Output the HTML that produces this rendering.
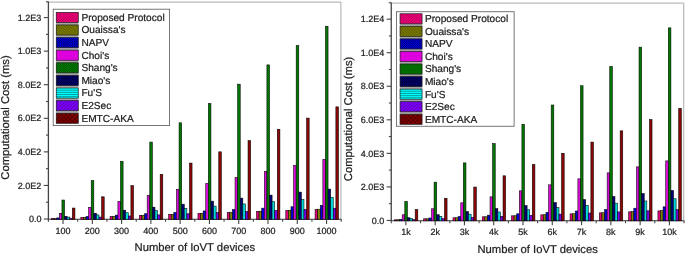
<!DOCTYPE html>
<html><head><meta charset="utf-8"><style>
html,body{margin:0;padding:0;background:#fff;}
text{stroke:#222;stroke-width:0.22px;}
svg{display:block;filter:blur(0.3px);text-rendering:geometricPrecision;font-family:"Liberation Sans",sans-serif;}
</style></head><body>
<svg width="685" height="254" viewBox="0 0 685 254">
<defs>
<pattern id="p0" width="2.0" height="2.0" patternUnits="userSpaceOnUse"><path d="M-0.5 0.5 L0.5 -0.5 M0 2.0 L2.0 0 M1.5 2.5 L2.5 1.5" stroke="#000" stroke-width="0.45" stroke-opacity="0.5" fill="none"/></pattern>
<pattern id="L0" width="2.6" height="2.6" patternUnits="userSpaceOnUse"><path d="M-0.65 0.65 L0.65 -0.65 M0 2.6 L2.6 0 M1.9500000000000002 3.25 L3.25 1.9500000000000002" stroke="#000" stroke-width="0.7" stroke-opacity="0.55" fill="none"/></pattern>
<pattern id="p1" width="2.0" height="2.0" patternUnits="userSpaceOnUse"><path d="M-0.5 1.5 L0.5 2.5 M0 0 L2.0 2.0 M1.5 -0.5 L2.5 0.5" stroke="#000" stroke-width="0.45" stroke-opacity="0.5" fill="none"/></pattern>
<pattern id="L1" width="2.7" height="2.7" patternUnits="userSpaceOnUse"><path d="M-0.675 2.0250000000000004 L0.675 3.375 M0 0 L2.7 2.7 M2.0250000000000004 -0.675 L3.375 0.675" stroke="#000" stroke-width="0.7" stroke-opacity="0.55" fill="none"/></pattern>
<pattern id="p2" width="1.6" height="1.6" patternUnits="userSpaceOnUse"><path d="M0 1.6 L1.6 0 M0 0 L1.6 1.6" stroke="#000" stroke-width="0.45" stroke-opacity="0.3" fill="none"/></pattern>
<pattern id="L2" width="2.2" height="2.2" patternUnits="userSpaceOnUse"><path d="M0 2.2 L2.2 0 M0 0 L2.2 2.2" stroke="#000" stroke-width="0.7" stroke-opacity="0.55" fill="none"/></pattern>
<pattern id="p3" width="1.4" height="1.4" patternUnits="userSpaceOnUse"><path d="M0 0.7 H1.4" stroke="#000" stroke-width="0.7" stroke-opacity="0.3" fill="none"/></pattern>
<pattern id="L3" width="1.45" height="1.45" patternUnits="userSpaceOnUse"><path d="M0 0.725 H1.45" stroke="#000" stroke-width="0.35" stroke-opacity="0.55" fill="none"/></pattern>
<pattern id="p4" width="2.0" height="2.0" patternUnits="userSpaceOnUse"><path d="M-0.5 1.5 L0.5 2.5 M0 0 L2.0 2.0 M1.5 -0.5 L2.5 0.5" stroke="#000" stroke-width="0.45" stroke-opacity="0.6" fill="none"/></pattern>
<pattern id="L4" width="2.0" height="2.0" patternUnits="userSpaceOnUse"><path d="M-0.5 1.5 L0.5 2.5 M0 0 L2.0 2.0 M1.5 -0.5 L2.5 0.5" stroke="#000" stroke-width="0.6" stroke-opacity="0.55" fill="none"/></pattern>
<pattern id="p5" width="1.6" height="1.6" patternUnits="userSpaceOnUse"><path d="M0 1.6 L1.6 0 M0 0 L1.6 1.6" stroke="#000" stroke-width="0.45" stroke-opacity="0.3" fill="none"/></pattern>
<pattern id="L5" width="2.2" height="2.2" patternUnits="userSpaceOnUse"><path d="M0 2.2 L2.2 0 M0 0 L2.2 2.2" stroke="#000" stroke-width="0.7" stroke-opacity="0.55" fill="none"/></pattern>
<pattern id="p6" width="1.4" height="1.4" patternUnits="userSpaceOnUse"><path d="M0 0.7 H1.4" stroke="#000" stroke-width="0.7" stroke-opacity="0.3" fill="none"/></pattern>
<pattern id="L6" width="2.4" height="2.4" patternUnits="userSpaceOnUse"><path d="M0 1.2 H2.4" stroke="#000" stroke-width="0.0" stroke-opacity="0.55" fill="none"/></pattern>
<pattern id="p7" width="2.0" height="2.0" patternUnits="userSpaceOnUse"><path d="M-0.5 0.5 L0.5 -0.5 M0 2.0 L2.0 0 M1.5 2.5 L2.5 1.5" stroke="#000" stroke-width="0.45" stroke-opacity="0.4" fill="none"/></pattern>
<pattern id="L7" width="3.4" height="3.4" patternUnits="userSpaceOnUse"><path d="M-0.85 0.85 L0.85 -0.85 M0 3.4 L3.4 0 M2.55 4.25 L4.25 2.55" stroke="#000" stroke-width="0.7" stroke-opacity="0.55" fill="none"/></pattern>
<pattern id="p8" width="1.8" height="1.8" patternUnits="userSpaceOnUse"><path d="M0 1.8 L1.8 0 M0 0 L1.8 1.8" stroke="#000" stroke-width="0.45" stroke-opacity="0.35" fill="none"/></pattern>
<pattern id="L8" width="4.4" height="4.4" patternUnits="userSpaceOnUse"><path d="M0 4.4 L4.4 0 M0 0 L4.4 4.4" stroke="#000" stroke-width="0.7" stroke-opacity="0.55" fill="none"/></pattern>
</defs>
<rect width="685" height="254" fill="#fff"/>
<g transform="translate(0,0)">
<path d="M48.4 2.1 H340.9 V219.0" fill="none" stroke="#a0a0a0" stroke-width="0.9"/>
<path d="M47.8 219.3 H341.2" fill="none" stroke="#333" stroke-width="1.1"/>
<rect x="51.54" y="218.31" width="2.60" height="1.04" fill="#ff0088"/>
<rect x="51.54" y="218.31" width="2.60" height="1.04" fill="url(#p0)" stroke="#000" stroke-width="0.6" stroke-opacity="0.9"/>
<rect x="54.14" y="218.29" width="2.60" height="1.06" fill="#909000"/>
<rect x="54.14" y="218.29" width="2.60" height="1.06" fill="url(#p1)" stroke="#000" stroke-width="0.6" stroke-opacity="0.9"/>
<rect x="56.74" y="217.91" width="2.60" height="1.44" fill="#0000ff"/>
<rect x="56.74" y="217.91" width="2.60" height="1.44" fill="url(#p2)" stroke="#000" stroke-width="0.6" stroke-opacity="0.9"/>
<rect x="59.34" y="213.31" width="2.60" height="6.04" fill="#ff10ff"/>
<rect x="59.34" y="213.31" width="2.60" height="6.04" fill="url(#p3)" stroke="#000" stroke-width="0.6" stroke-opacity="0.9"/>
<rect x="61.94" y="200.00" width="2.60" height="19.35" fill="#008800"/>
<rect x="61.94" y="200.00" width="2.60" height="19.35" fill="url(#p4)" stroke="#000" stroke-width="0.6" stroke-opacity="0.9"/>
<rect x="64.54" y="216.28" width="2.60" height="3.07" fill="#000090"/>
<rect x="64.54" y="216.28" width="2.60" height="3.07" fill="url(#p5)" stroke="#000" stroke-width="0.6" stroke-opacity="0.9"/>
<rect x="67.14" y="217.10" width="2.60" height="2.25" fill="#00ffff"/>
<rect x="67.14" y="217.10" width="2.60" height="2.25" fill="url(#p6)" stroke="#000" stroke-width="0.6" stroke-opacity="0.9"/>
<rect x="69.74" y="218.19" width="2.60" height="1.16" fill="#8800ff"/>
<rect x="69.74" y="218.19" width="2.60" height="1.16" fill="url(#p7)" stroke="#000" stroke-width="0.6" stroke-opacity="0.9"/>
<rect x="72.34" y="208.05" width="2.60" height="11.30" fill="#a80808"/>
<rect x="72.34" y="208.05" width="2.60" height="11.30" fill="url(#p8)" stroke="#000" stroke-width="0.6" stroke-opacity="0.9"/>
<rect x="80.82" y="217.32" width="2.60" height="2.03" fill="#ff0088"/>
<rect x="80.82" y="217.32" width="2.60" height="2.03" fill="url(#p0)" stroke="#000" stroke-width="0.6" stroke-opacity="0.9"/>
<rect x="83.42" y="217.29" width="2.60" height="2.06" fill="#909000"/>
<rect x="83.42" y="217.29" width="2.60" height="2.06" fill="url(#p1)" stroke="#000" stroke-width="0.6" stroke-opacity="0.9"/>
<rect x="86.02" y="216.51" width="2.60" height="2.84" fill="#0000ff"/>
<rect x="86.02" y="216.51" width="2.60" height="2.84" fill="url(#p2)" stroke="#000" stroke-width="0.6" stroke-opacity="0.9"/>
<rect x="88.62" y="207.32" width="2.60" height="12.03" fill="#ff10ff"/>
<rect x="88.62" y="207.32" width="2.60" height="12.03" fill="url(#p3)" stroke="#000" stroke-width="0.6" stroke-opacity="0.9"/>
<rect x="91.22" y="180.69" width="2.60" height="38.66" fill="#008800"/>
<rect x="91.22" y="180.69" width="2.60" height="38.66" fill="url(#p4)" stroke="#000" stroke-width="0.6" stroke-opacity="0.9"/>
<rect x="93.82" y="213.26" width="2.60" height="6.09" fill="#000090"/>
<rect x="93.82" y="213.26" width="2.60" height="6.09" fill="url(#p5)" stroke="#000" stroke-width="0.6" stroke-opacity="0.9"/>
<rect x="96.42" y="214.90" width="2.60" height="4.45" fill="#00ffff"/>
<rect x="96.42" y="214.90" width="2.60" height="4.45" fill="url(#p6)" stroke="#000" stroke-width="0.6" stroke-opacity="0.9"/>
<rect x="99.02" y="217.08" width="2.60" height="2.27" fill="#8800ff"/>
<rect x="99.02" y="217.08" width="2.60" height="2.27" fill="url(#p7)" stroke="#000" stroke-width="0.6" stroke-opacity="0.9"/>
<rect x="101.62" y="196.81" width="2.60" height="22.54" fill="#a80808"/>
<rect x="101.62" y="196.81" width="2.60" height="22.54" fill="url(#p8)" stroke="#000" stroke-width="0.6" stroke-opacity="0.9"/>
<rect x="110.10" y="216.33" width="2.60" height="3.02" fill="#ff0088"/>
<rect x="110.10" y="216.33" width="2.60" height="3.02" fill="url(#p0)" stroke="#000" stroke-width="0.6" stroke-opacity="0.9"/>
<rect x="112.70" y="216.28" width="2.60" height="3.07" fill="#909000"/>
<rect x="112.70" y="216.28" width="2.60" height="3.07" fill="url(#p1)" stroke="#000" stroke-width="0.6" stroke-opacity="0.9"/>
<rect x="115.30" y="215.12" width="2.60" height="4.23" fill="#0000ff"/>
<rect x="115.30" y="215.12" width="2.60" height="4.23" fill="url(#p2)" stroke="#000" stroke-width="0.6" stroke-opacity="0.9"/>
<rect x="117.90" y="201.32" width="2.60" height="18.03" fill="#ff10ff"/>
<rect x="117.90" y="201.32" width="2.60" height="18.03" fill="url(#p3)" stroke="#000" stroke-width="0.6" stroke-opacity="0.9"/>
<rect x="120.50" y="161.39" width="2.60" height="57.96" fill="#008800"/>
<rect x="120.50" y="161.39" width="2.60" height="57.96" fill="url(#p4)" stroke="#000" stroke-width="0.6" stroke-opacity="0.9"/>
<rect x="123.10" y="210.24" width="2.60" height="9.11" fill="#000090"/>
<rect x="123.10" y="210.24" width="2.60" height="9.11" fill="url(#p5)" stroke="#000" stroke-width="0.6" stroke-opacity="0.9"/>
<rect x="125.70" y="212.70" width="2.60" height="6.65" fill="#00ffff"/>
<rect x="125.70" y="212.70" width="2.60" height="6.65" fill="url(#p6)" stroke="#000" stroke-width="0.6" stroke-opacity="0.9"/>
<rect x="128.30" y="215.98" width="2.60" height="3.37" fill="#8800ff"/>
<rect x="128.30" y="215.98" width="2.60" height="3.37" fill="url(#p7)" stroke="#000" stroke-width="0.6" stroke-opacity="0.9"/>
<rect x="130.90" y="185.56" width="2.60" height="33.79" fill="#a80808"/>
<rect x="130.90" y="185.56" width="2.60" height="33.79" fill="url(#p8)" stroke="#000" stroke-width="0.6" stroke-opacity="0.9"/>
<rect x="139.38" y="215.34" width="2.60" height="4.01" fill="#ff0088"/>
<rect x="139.38" y="215.34" width="2.60" height="4.01" fill="url(#p0)" stroke="#000" stroke-width="0.6" stroke-opacity="0.9"/>
<rect x="141.98" y="215.27" width="2.60" height="4.08" fill="#909000"/>
<rect x="141.98" y="215.27" width="2.60" height="4.08" fill="url(#p1)" stroke="#000" stroke-width="0.6" stroke-opacity="0.9"/>
<rect x="144.58" y="213.73" width="2.60" height="5.62" fill="#0000ff"/>
<rect x="144.58" y="213.73" width="2.60" height="5.62" fill="url(#p2)" stroke="#000" stroke-width="0.6" stroke-opacity="0.9"/>
<rect x="147.18" y="195.33" width="2.60" height="24.02" fill="#ff10ff"/>
<rect x="147.18" y="195.33" width="2.60" height="24.02" fill="url(#p3)" stroke="#000" stroke-width="0.6" stroke-opacity="0.9"/>
<rect x="149.78" y="142.09" width="2.60" height="77.26" fill="#008800"/>
<rect x="149.78" y="142.09" width="2.60" height="77.26" fill="url(#p4)" stroke="#000" stroke-width="0.6" stroke-opacity="0.9"/>
<rect x="152.38" y="207.21" width="2.60" height="12.14" fill="#000090"/>
<rect x="152.38" y="207.21" width="2.60" height="12.14" fill="url(#p5)" stroke="#000" stroke-width="0.6" stroke-opacity="0.9"/>
<rect x="154.98" y="210.50" width="2.60" height="8.85" fill="#00ffff"/>
<rect x="154.98" y="210.50" width="2.60" height="8.85" fill="url(#p6)" stroke="#000" stroke-width="0.6" stroke-opacity="0.9"/>
<rect x="157.58" y="214.87" width="2.60" height="4.48" fill="#8800ff"/>
<rect x="157.58" y="214.87" width="2.60" height="4.48" fill="url(#p7)" stroke="#000" stroke-width="0.6" stroke-opacity="0.9"/>
<rect x="160.18" y="174.32" width="2.60" height="45.03" fill="#a80808"/>
<rect x="160.18" y="174.32" width="2.60" height="45.03" fill="url(#p8)" stroke="#000" stroke-width="0.6" stroke-opacity="0.9"/>
<rect x="168.66" y="214.35" width="2.60" height="5.00" fill="#ff0088"/>
<rect x="168.66" y="214.35" width="2.60" height="5.00" fill="url(#p0)" stroke="#000" stroke-width="0.6" stroke-opacity="0.9"/>
<rect x="171.26" y="214.26" width="2.60" height="5.09" fill="#909000"/>
<rect x="171.26" y="214.26" width="2.60" height="5.09" fill="url(#p1)" stroke="#000" stroke-width="0.6" stroke-opacity="0.9"/>
<rect x="173.86" y="212.33" width="2.60" height="7.02" fill="#0000ff"/>
<rect x="173.86" y="212.33" width="2.60" height="7.02" fill="url(#p2)" stroke="#000" stroke-width="0.6" stroke-opacity="0.9"/>
<rect x="176.46" y="189.34" width="2.60" height="30.01" fill="#ff10ff"/>
<rect x="176.46" y="189.34" width="2.60" height="30.01" fill="url(#p3)" stroke="#000" stroke-width="0.6" stroke-opacity="0.9"/>
<rect x="179.06" y="122.79" width="2.60" height="96.56" fill="#008800"/>
<rect x="179.06" y="122.79" width="2.60" height="96.56" fill="url(#p4)" stroke="#000" stroke-width="0.6" stroke-opacity="0.9"/>
<rect x="181.66" y="204.19" width="2.60" height="15.16" fill="#000090"/>
<rect x="181.66" y="204.19" width="2.60" height="15.16" fill="url(#p5)" stroke="#000" stroke-width="0.6" stroke-opacity="0.9"/>
<rect x="184.26" y="208.31" width="2.60" height="11.04" fill="#00ffff"/>
<rect x="184.26" y="208.31" width="2.60" height="11.04" fill="url(#p6)" stroke="#000" stroke-width="0.6" stroke-opacity="0.9"/>
<rect x="186.86" y="213.76" width="2.60" height="5.59" fill="#8800ff"/>
<rect x="186.86" y="213.76" width="2.60" height="5.59" fill="url(#p7)" stroke="#000" stroke-width="0.6" stroke-opacity="0.9"/>
<rect x="189.46" y="163.07" width="2.60" height="56.28" fill="#a80808"/>
<rect x="189.46" y="163.07" width="2.60" height="56.28" fill="url(#p8)" stroke="#000" stroke-width="0.6" stroke-opacity="0.9"/>
<rect x="197.94" y="213.36" width="2.60" height="5.99" fill="#ff0088"/>
<rect x="197.94" y="213.36" width="2.60" height="5.99" fill="url(#p0)" stroke="#000" stroke-width="0.6" stroke-opacity="0.9"/>
<rect x="200.54" y="213.26" width="2.60" height="6.09" fill="#909000"/>
<rect x="200.54" y="213.26" width="2.60" height="6.09" fill="url(#p1)" stroke="#000" stroke-width="0.6" stroke-opacity="0.9"/>
<rect x="203.14" y="210.94" width="2.60" height="8.41" fill="#0000ff"/>
<rect x="203.14" y="210.94" width="2.60" height="8.41" fill="url(#p2)" stroke="#000" stroke-width="0.6" stroke-opacity="0.9"/>
<rect x="205.74" y="183.35" width="2.60" height="36.00" fill="#ff10ff"/>
<rect x="205.74" y="183.35" width="2.60" height="36.00" fill="url(#p3)" stroke="#000" stroke-width="0.6" stroke-opacity="0.9"/>
<rect x="208.34" y="103.48" width="2.60" height="115.87" fill="#008800"/>
<rect x="208.34" y="103.48" width="2.60" height="115.87" fill="url(#p4)" stroke="#000" stroke-width="0.6" stroke-opacity="0.9"/>
<rect x="210.94" y="201.17" width="2.60" height="18.18" fill="#000090"/>
<rect x="210.94" y="201.17" width="2.60" height="18.18" fill="url(#p5)" stroke="#000" stroke-width="0.6" stroke-opacity="0.9"/>
<rect x="213.54" y="206.11" width="2.60" height="13.24" fill="#00ffff"/>
<rect x="213.54" y="206.11" width="2.60" height="13.24" fill="url(#p6)" stroke="#000" stroke-width="0.6" stroke-opacity="0.9"/>
<rect x="216.14" y="212.65" width="2.60" height="6.70" fill="#8800ff"/>
<rect x="216.14" y="212.65" width="2.60" height="6.70" fill="url(#p7)" stroke="#000" stroke-width="0.6" stroke-opacity="0.9"/>
<rect x="218.74" y="151.82" width="2.60" height="67.53" fill="#a80808"/>
<rect x="218.74" y="151.82" width="2.60" height="67.53" fill="url(#p8)" stroke="#000" stroke-width="0.6" stroke-opacity="0.9"/>
<rect x="227.22" y="212.37" width="2.60" height="6.98" fill="#ff0088"/>
<rect x="227.22" y="212.37" width="2.60" height="6.98" fill="url(#p0)" stroke="#000" stroke-width="0.6" stroke-opacity="0.9"/>
<rect x="229.82" y="212.25" width="2.60" height="7.10" fill="#909000"/>
<rect x="229.82" y="212.25" width="2.60" height="7.10" fill="url(#p1)" stroke="#000" stroke-width="0.6" stroke-opacity="0.9"/>
<rect x="232.42" y="209.55" width="2.60" height="9.80" fill="#0000ff"/>
<rect x="232.42" y="209.55" width="2.60" height="9.80" fill="url(#p2)" stroke="#000" stroke-width="0.6" stroke-opacity="0.9"/>
<rect x="235.02" y="177.35" width="2.60" height="42.00" fill="#ff10ff"/>
<rect x="235.02" y="177.35" width="2.60" height="42.00" fill="url(#p3)" stroke="#000" stroke-width="0.6" stroke-opacity="0.9"/>
<rect x="237.62" y="84.18" width="2.60" height="135.17" fill="#008800"/>
<rect x="237.62" y="84.18" width="2.60" height="135.17" fill="url(#p4)" stroke="#000" stroke-width="0.6" stroke-opacity="0.9"/>
<rect x="240.22" y="198.15" width="2.60" height="21.20" fill="#000090"/>
<rect x="240.22" y="198.15" width="2.60" height="21.20" fill="url(#p5)" stroke="#000" stroke-width="0.6" stroke-opacity="0.9"/>
<rect x="242.82" y="203.91" width="2.60" height="15.44" fill="#00ffff"/>
<rect x="242.82" y="203.91" width="2.60" height="15.44" fill="url(#p6)" stroke="#000" stroke-width="0.6" stroke-opacity="0.9"/>
<rect x="245.42" y="211.55" width="2.60" height="7.80" fill="#8800ff"/>
<rect x="245.42" y="211.55" width="2.60" height="7.80" fill="url(#p7)" stroke="#000" stroke-width="0.6" stroke-opacity="0.9"/>
<rect x="248.02" y="140.58" width="2.60" height="78.77" fill="#a80808"/>
<rect x="248.02" y="140.58" width="2.60" height="78.77" fill="url(#p8)" stroke="#000" stroke-width="0.6" stroke-opacity="0.9"/>
<rect x="256.50" y="211.38" width="2.60" height="7.97" fill="#ff0088"/>
<rect x="256.50" y="211.38" width="2.60" height="7.97" fill="url(#p0)" stroke="#000" stroke-width="0.6" stroke-opacity="0.9"/>
<rect x="259.10" y="211.24" width="2.60" height="8.11" fill="#909000"/>
<rect x="259.10" y="211.24" width="2.60" height="8.11" fill="url(#p1)" stroke="#000" stroke-width="0.6" stroke-opacity="0.9"/>
<rect x="261.70" y="208.15" width="2.60" height="11.20" fill="#0000ff"/>
<rect x="261.70" y="208.15" width="2.60" height="11.20" fill="url(#p2)" stroke="#000" stroke-width="0.6" stroke-opacity="0.9"/>
<rect x="264.30" y="171.36" width="2.60" height="47.99" fill="#ff10ff"/>
<rect x="264.30" y="171.36" width="2.60" height="47.99" fill="url(#p3)" stroke="#000" stroke-width="0.6" stroke-opacity="0.9"/>
<rect x="266.90" y="64.88" width="2.60" height="154.47" fill="#008800"/>
<rect x="266.90" y="64.88" width="2.60" height="154.47" fill="url(#p4)" stroke="#000" stroke-width="0.6" stroke-opacity="0.9"/>
<rect x="269.50" y="195.13" width="2.60" height="24.22" fill="#000090"/>
<rect x="269.50" y="195.13" width="2.60" height="24.22" fill="url(#p5)" stroke="#000" stroke-width="0.6" stroke-opacity="0.9"/>
<rect x="272.10" y="201.71" width="2.60" height="17.64" fill="#00ffff"/>
<rect x="272.10" y="201.71" width="2.60" height="17.64" fill="url(#p6)" stroke="#000" stroke-width="0.6" stroke-opacity="0.9"/>
<rect x="274.70" y="210.44" width="2.60" height="8.91" fill="#8800ff"/>
<rect x="274.70" y="210.44" width="2.60" height="8.91" fill="url(#p7)" stroke="#000" stroke-width="0.6" stroke-opacity="0.9"/>
<rect x="277.30" y="129.33" width="2.60" height="90.02" fill="#a80808"/>
<rect x="277.30" y="129.33" width="2.60" height="90.02" fill="url(#p8)" stroke="#000" stroke-width="0.6" stroke-opacity="0.9"/>
<rect x="285.78" y="210.39" width="2.60" height="8.96" fill="#ff0088"/>
<rect x="285.78" y="210.39" width="2.60" height="8.96" fill="url(#p0)" stroke="#000" stroke-width="0.6" stroke-opacity="0.9"/>
<rect x="288.38" y="210.24" width="2.60" height="9.11" fill="#909000"/>
<rect x="288.38" y="210.24" width="2.60" height="9.11" fill="url(#p1)" stroke="#000" stroke-width="0.6" stroke-opacity="0.9"/>
<rect x="290.98" y="206.76" width="2.60" height="12.59" fill="#0000ff"/>
<rect x="290.98" y="206.76" width="2.60" height="12.59" fill="url(#p2)" stroke="#000" stroke-width="0.6" stroke-opacity="0.9"/>
<rect x="293.58" y="165.37" width="2.60" height="53.98" fill="#ff10ff"/>
<rect x="293.58" y="165.37" width="2.60" height="53.98" fill="url(#p3)" stroke="#000" stroke-width="0.6" stroke-opacity="0.9"/>
<rect x="296.18" y="45.58" width="2.60" height="173.77" fill="#008800"/>
<rect x="296.18" y="45.58" width="2.60" height="173.77" fill="url(#p4)" stroke="#000" stroke-width="0.6" stroke-opacity="0.9"/>
<rect x="298.78" y="192.11" width="2.60" height="27.24" fill="#000090"/>
<rect x="298.78" y="192.11" width="2.60" height="27.24" fill="url(#p5)" stroke="#000" stroke-width="0.6" stroke-opacity="0.9"/>
<rect x="301.38" y="199.51" width="2.60" height="19.84" fill="#00ffff"/>
<rect x="301.38" y="199.51" width="2.60" height="19.84" fill="url(#p6)" stroke="#000" stroke-width="0.6" stroke-opacity="0.9"/>
<rect x="303.98" y="209.33" width="2.60" height="10.02" fill="#8800ff"/>
<rect x="303.98" y="209.33" width="2.60" height="10.02" fill="url(#p7)" stroke="#000" stroke-width="0.6" stroke-opacity="0.9"/>
<rect x="306.58" y="118.09" width="2.60" height="101.26" fill="#a80808"/>
<rect x="306.58" y="118.09" width="2.60" height="101.26" fill="url(#p8)" stroke="#000" stroke-width="0.6" stroke-opacity="0.9"/>
<rect x="315.06" y="209.40" width="2.60" height="9.95" fill="#ff0088"/>
<rect x="315.06" y="209.40" width="2.60" height="9.95" fill="url(#p0)" stroke="#000" stroke-width="0.6" stroke-opacity="0.9"/>
<rect x="317.66" y="209.23" width="2.60" height="10.12" fill="#909000"/>
<rect x="317.66" y="209.23" width="2.60" height="10.12" fill="url(#p1)" stroke="#000" stroke-width="0.6" stroke-opacity="0.9"/>
<rect x="320.26" y="205.37" width="2.60" height="13.98" fill="#0000ff"/>
<rect x="320.26" y="205.37" width="2.60" height="13.98" fill="url(#p2)" stroke="#000" stroke-width="0.6" stroke-opacity="0.9"/>
<rect x="322.86" y="159.38" width="2.60" height="59.97" fill="#ff10ff"/>
<rect x="322.86" y="159.38" width="2.60" height="59.97" fill="url(#p3)" stroke="#000" stroke-width="0.6" stroke-opacity="0.9"/>
<rect x="325.46" y="26.27" width="2.60" height="193.08" fill="#008800"/>
<rect x="325.46" y="26.27" width="2.60" height="193.08" fill="url(#p4)" stroke="#000" stroke-width="0.6" stroke-opacity="0.9"/>
<rect x="328.06" y="189.09" width="2.60" height="30.26" fill="#000090"/>
<rect x="328.06" y="189.09" width="2.60" height="30.26" fill="url(#p5)" stroke="#000" stroke-width="0.6" stroke-opacity="0.9"/>
<rect x="330.66" y="197.31" width="2.60" height="22.04" fill="#00ffff"/>
<rect x="330.66" y="197.31" width="2.60" height="22.04" fill="url(#p6)" stroke="#000" stroke-width="0.6" stroke-opacity="0.9"/>
<rect x="333.26" y="208.22" width="2.60" height="11.13" fill="#8800ff"/>
<rect x="333.26" y="208.22" width="2.60" height="11.13" fill="url(#p7)" stroke="#000" stroke-width="0.6" stroke-opacity="0.9"/>
<rect x="335.86" y="106.84" width="2.60" height="112.51" fill="#a80808"/>
<rect x="335.86" y="106.84" width="2.60" height="112.51" fill="url(#p8)" stroke="#000" stroke-width="0.6" stroke-opacity="0.9"/>
<path d="M48.4 1.5 V219.5" fill="none" stroke="#444" stroke-width="1.3"/>
<path d="M43.8 219.00 H48.4" stroke="#444" stroke-width="1.1"/>
<text x="41.4" y="222.20" text-anchor="end" font-size="9" fill="#222">0.0</text>
<path d="M46.0 202.22 H48.4" stroke="#444" stroke-width="1.1"/>
<path d="M43.8 185.43 H48.4" stroke="#444" stroke-width="1.1"/>
<text x="41.4" y="188.63" text-anchor="end" font-size="9" fill="#222">2.0E2</text>
<path d="M46.0 168.65 H48.4" stroke="#444" stroke-width="1.1"/>
<path d="M43.8 151.86 H48.4" stroke="#444" stroke-width="1.1"/>
<text x="41.4" y="155.06" text-anchor="end" font-size="9" fill="#222">4.0E2</text>
<path d="M46.0 135.08 H48.4" stroke="#444" stroke-width="1.1"/>
<path d="M43.8 118.29 H48.4" stroke="#444" stroke-width="1.1"/>
<text x="41.4" y="121.49" text-anchor="end" font-size="9" fill="#222">6.0E2</text>
<path d="M46.0 101.50 H48.4" stroke="#444" stroke-width="1.1"/>
<path d="M43.8 84.72 H48.4" stroke="#444" stroke-width="1.1"/>
<text x="41.4" y="87.92" text-anchor="end" font-size="9" fill="#222">8.0E2</text>
<path d="M46.0 67.94 H48.4" stroke="#444" stroke-width="1.1"/>
<path d="M43.8 51.15 H48.4" stroke="#444" stroke-width="1.1"/>
<text x="41.4" y="54.35" text-anchor="end" font-size="9" fill="#222">1.0E3</text>
<path d="M46.0 34.37 H48.4" stroke="#444" stroke-width="1.1"/>
<path d="M43.8 17.58 H48.4" stroke="#444" stroke-width="1.1"/>
<text x="41.4" y="20.78" text-anchor="end" font-size="9" fill="#222">1.2E3</text>
<path d="M46.0 1.80 H48.4" stroke="#444" stroke-width="1.1"/>
<path d="M63.04 219.0 V223.9" stroke="#444" stroke-width="1.1"/>
<text x="63.04" y="234.00" text-anchor="middle" font-size="9" fill="#222">100</text>
<path d="M77.68 219.0 V221.8" stroke="#444" stroke-width="1.1"/>
<path d="M92.32 219.0 V223.9" stroke="#444" stroke-width="1.1"/>
<text x="92.32" y="234.00" text-anchor="middle" font-size="9" fill="#222">200</text>
<path d="M106.96 219.0 V221.8" stroke="#444" stroke-width="1.1"/>
<path d="M121.60 219.0 V223.9" stroke="#444" stroke-width="1.1"/>
<text x="121.60" y="234.00" text-anchor="middle" font-size="9" fill="#222">300</text>
<path d="M136.24 219.0 V221.8" stroke="#444" stroke-width="1.1"/>
<path d="M150.88 219.0 V223.9" stroke="#444" stroke-width="1.1"/>
<text x="150.88" y="234.00" text-anchor="middle" font-size="9" fill="#222">400</text>
<path d="M165.52 219.0 V221.8" stroke="#444" stroke-width="1.1"/>
<path d="M180.16 219.0 V223.9" stroke="#444" stroke-width="1.1"/>
<text x="180.16" y="234.00" text-anchor="middle" font-size="9" fill="#222">500</text>
<path d="M194.80 219.0 V221.8" stroke="#444" stroke-width="1.1"/>
<path d="M209.44 219.0 V223.9" stroke="#444" stroke-width="1.1"/>
<text x="209.44" y="234.00" text-anchor="middle" font-size="9" fill="#222">600</text>
<path d="M224.08 219.0 V221.8" stroke="#444" stroke-width="1.1"/>
<path d="M238.72 219.0 V223.9" stroke="#444" stroke-width="1.1"/>
<text x="238.72" y="234.00" text-anchor="middle" font-size="9" fill="#222">700</text>
<path d="M253.36 219.0 V221.8" stroke="#444" stroke-width="1.1"/>
<path d="M268.00 219.0 V223.9" stroke="#444" stroke-width="1.1"/>
<text x="268.00" y="234.00" text-anchor="middle" font-size="9" fill="#222">800</text>
<path d="M282.64 219.0 V221.8" stroke="#444" stroke-width="1.1"/>
<path d="M297.28 219.0 V223.9" stroke="#444" stroke-width="1.1"/>
<text x="297.28" y="234.00" text-anchor="middle" font-size="9" fill="#222">900</text>
<path d="M311.92 219.0 V221.8" stroke="#444" stroke-width="1.1"/>
<path d="M326.56 219.0 V223.9" stroke="#444" stroke-width="1.1"/>
<text x="326.56" y="234.00" text-anchor="middle" font-size="9" fill="#222">1000</text>
<path d="M341.20 219.0 V221.8" stroke="#444" stroke-width="1.1"/>
<path d="M48.40 219.0 V221.8" stroke="#444" stroke-width="1.1"/>
<text x="194.80" y="251.40" text-anchor="middle" font-size="11.26" fill="#222">Number of IoVT devices</text>
<text transform="translate(9.2,117.5) rotate(-90)" text-anchor="middle" font-size="11.26" fill="#222">Computational Cost (ms)</text>
<rect x="53.2" y="9.2" width="116.4" height="116.4" fill="#fff" stroke="#555" stroke-width="0.8"/>
<rect x="56.10" y="13.00" width="22.3" height="109.38" fill="#a4a4a4"/>
<rect x="56.25" y="12.35" width="22.0" height="10.1" fill="#ff0080"/>
<rect x="56.25" y="12.35" width="22.0" height="10.1" fill="url(#L0)" stroke="#222" stroke-width="0.7"/>
<text x="81.40" y="20.80" font-size="10.15" fill="#222">Proposed Protocol</text>
<rect x="56.25" y="24.96" width="22.0" height="10.1" fill="#808000"/>
<rect x="56.25" y="24.96" width="22.0" height="10.1" fill="url(#L1)" stroke="#222" stroke-width="0.7"/>
<text x="81.40" y="33.41" font-size="10.15" fill="#222">Ouaissa's</text>
<rect x="56.25" y="37.57" width="22.0" height="10.1" fill="#0000ff"/>
<rect x="56.25" y="37.57" width="22.0" height="10.1" fill="url(#L2)" stroke="#222" stroke-width="0.7"/>
<text x="81.40" y="46.02" font-size="10.15" fill="#222">NAPV</text>
<rect x="56.25" y="50.18" width="22.0" height="10.1" fill="#ff00ff"/>
<rect x="56.25" y="50.18" width="22.0" height="10.1" fill="url(#L3)" stroke="#222" stroke-width="0.7"/>
<text x="81.40" y="58.63" font-size="10.15" fill="#222">Choi's</text>
<rect x="56.25" y="62.79" width="22.0" height="10.1" fill="#008000"/>
<rect x="56.25" y="62.79" width="22.0" height="10.1" fill="url(#L4)" stroke="#222" stroke-width="0.7"/>
<text x="81.40" y="71.24" font-size="10.15" fill="#222">Shang's</text>
<rect x="56.25" y="75.40" width="22.0" height="10.1" fill="#000080"/>
<rect x="56.25" y="75.40" width="22.0" height="10.1" fill="url(#L5)" stroke="#222" stroke-width="0.7"/>
<text x="81.40" y="83.85" font-size="10.15" fill="#222">Miao's</text>
<rect x="56.25" y="88.01" width="22.0" height="10.1" fill="#00ffff"/>
<rect x="56.25" y="88.01" width="22.0" height="10.1" fill="url(#L6)" stroke="#222" stroke-width="0.7"/>
<path d="M56.40 90.16 h21.6" stroke="#002828" stroke-opacity="0.75" stroke-width="0.6"/>
<path d="M56.40 92.36 h21.6" stroke="#002828" stroke-opacity="0.75" stroke-width="0.6"/>
<path d="M56.40 94.56 h21.6" stroke="#002828" stroke-opacity="0.75" stroke-width="0.6"/>
<path d="M56.40 96.66 h21.6" stroke="#002828" stroke-opacity="0.75" stroke-width="0.6"/>
<text x="81.40" y="96.46" font-size="10.15" fill="#222">Fu'S</text>
<rect x="56.25" y="100.62" width="22.0" height="10.1" fill="#8000ff"/>
<rect x="56.25" y="100.62" width="22.0" height="10.1" fill="url(#L7)" stroke="#222" stroke-width="0.7"/>
<text x="81.40" y="109.07" font-size="10.15" fill="#222">E2Sec</text>
<rect x="56.25" y="113.23" width="22.0" height="10.1" fill="#800000"/>
<rect x="56.25" y="113.23" width="22.0" height="10.1" fill="url(#L8)" stroke="#222" stroke-width="0.7"/>
<text x="81.40" y="121.68" font-size="10.15" fill="#222">EMTC-AKA</text>
</g>
<g transform="translate(342.85,1.45)">
<path d="M48.4 1.6500000000000001 H340.9 V219.0" fill="none" stroke="#a0a0a0" stroke-width="0.9"/>
<path d="M47.8 219.3 H341.2" fill="none" stroke="#333" stroke-width="1.1"/>
<rect x="51.54" y="218.31" width="2.60" height="1.04" fill="#ff0088"/>
<rect x="51.54" y="218.31" width="2.60" height="1.04" fill="url(#p0)" stroke="#000" stroke-width="0.6" stroke-opacity="0.9"/>
<rect x="54.14" y="218.29" width="2.60" height="1.06" fill="#909000"/>
<rect x="54.14" y="218.29" width="2.60" height="1.06" fill="url(#p1)" stroke="#000" stroke-width="0.6" stroke-opacity="0.9"/>
<rect x="56.74" y="217.91" width="2.60" height="1.44" fill="#0000ff"/>
<rect x="56.74" y="217.91" width="2.60" height="1.44" fill="url(#p2)" stroke="#000" stroke-width="0.6" stroke-opacity="0.9"/>
<rect x="59.34" y="213.31" width="2.60" height="6.04" fill="#ff10ff"/>
<rect x="59.34" y="213.31" width="2.60" height="6.04" fill="url(#p3)" stroke="#000" stroke-width="0.6" stroke-opacity="0.9"/>
<rect x="61.94" y="200.01" width="2.60" height="19.34" fill="#008800"/>
<rect x="61.94" y="200.01" width="2.60" height="19.34" fill="url(#p4)" stroke="#000" stroke-width="0.6" stroke-opacity="0.9"/>
<rect x="64.54" y="216.28" width="2.60" height="3.07" fill="#000090"/>
<rect x="64.54" y="216.28" width="2.60" height="3.07" fill="url(#p5)" stroke="#000" stroke-width="0.6" stroke-opacity="0.9"/>
<rect x="67.14" y="217.10" width="2.60" height="2.25" fill="#00ffff"/>
<rect x="67.14" y="217.10" width="2.60" height="2.25" fill="url(#p6)" stroke="#000" stroke-width="0.6" stroke-opacity="0.9"/>
<rect x="69.74" y="218.19" width="2.60" height="1.16" fill="#8800ff"/>
<rect x="69.74" y="218.19" width="2.60" height="1.16" fill="url(#p7)" stroke="#000" stroke-width="0.6" stroke-opacity="0.9"/>
<rect x="72.34" y="208.06" width="2.60" height="11.29" fill="#a80808"/>
<rect x="72.34" y="208.06" width="2.60" height="11.29" fill="url(#p8)" stroke="#000" stroke-width="0.6" stroke-opacity="0.9"/>
<rect x="80.82" y="217.32" width="2.60" height="2.03" fill="#ff0088"/>
<rect x="80.82" y="217.32" width="2.60" height="2.03" fill="url(#p0)" stroke="#000" stroke-width="0.6" stroke-opacity="0.9"/>
<rect x="83.42" y="217.29" width="2.60" height="2.06" fill="#909000"/>
<rect x="83.42" y="217.29" width="2.60" height="2.06" fill="url(#p1)" stroke="#000" stroke-width="0.6" stroke-opacity="0.9"/>
<rect x="86.02" y="216.52" width="2.60" height="2.83" fill="#0000ff"/>
<rect x="86.02" y="216.52" width="2.60" height="2.83" fill="url(#p2)" stroke="#000" stroke-width="0.6" stroke-opacity="0.9"/>
<rect x="88.62" y="207.32" width="2.60" height="12.03" fill="#ff10ff"/>
<rect x="88.62" y="207.32" width="2.60" height="12.03" fill="url(#p3)" stroke="#000" stroke-width="0.6" stroke-opacity="0.9"/>
<rect x="91.22" y="180.72" width="2.60" height="38.63" fill="#008800"/>
<rect x="91.22" y="180.72" width="2.60" height="38.63" fill="url(#p4)" stroke="#000" stroke-width="0.6" stroke-opacity="0.9"/>
<rect x="93.82" y="213.26" width="2.60" height="6.09" fill="#000090"/>
<rect x="93.82" y="213.26" width="2.60" height="6.09" fill="url(#p5)" stroke="#000" stroke-width="0.6" stroke-opacity="0.9"/>
<rect x="96.42" y="214.90" width="2.60" height="4.45" fill="#00ffff"/>
<rect x="96.42" y="214.90" width="2.60" height="4.45" fill="url(#p6)" stroke="#000" stroke-width="0.6" stroke-opacity="0.9"/>
<rect x="99.02" y="217.09" width="2.60" height="2.26" fill="#8800ff"/>
<rect x="99.02" y="217.09" width="2.60" height="2.26" fill="url(#p7)" stroke="#000" stroke-width="0.6" stroke-opacity="0.9"/>
<rect x="101.62" y="196.82" width="2.60" height="22.53" fill="#a80808"/>
<rect x="101.62" y="196.82" width="2.60" height="22.53" fill="url(#p8)" stroke="#000" stroke-width="0.6" stroke-opacity="0.9"/>
<rect x="110.10" y="216.33" width="2.60" height="3.02" fill="#ff0088"/>
<rect x="110.10" y="216.33" width="2.60" height="3.02" fill="url(#p0)" stroke="#000" stroke-width="0.6" stroke-opacity="0.9"/>
<rect x="112.70" y="216.28" width="2.60" height="3.07" fill="#909000"/>
<rect x="112.70" y="216.28" width="2.60" height="3.07" fill="url(#p1)" stroke="#000" stroke-width="0.6" stroke-opacity="0.9"/>
<rect x="115.30" y="215.12" width="2.60" height="4.23" fill="#0000ff"/>
<rect x="115.30" y="215.12" width="2.60" height="4.23" fill="url(#p2)" stroke="#000" stroke-width="0.6" stroke-opacity="0.9"/>
<rect x="117.90" y="201.33" width="2.60" height="18.02" fill="#ff10ff"/>
<rect x="117.90" y="201.33" width="2.60" height="18.02" fill="url(#p3)" stroke="#000" stroke-width="0.6" stroke-opacity="0.9"/>
<rect x="120.50" y="161.43" width="2.60" height="57.92" fill="#008800"/>
<rect x="120.50" y="161.43" width="2.60" height="57.92" fill="url(#p4)" stroke="#000" stroke-width="0.6" stroke-opacity="0.9"/>
<rect x="123.10" y="210.24" width="2.60" height="9.11" fill="#000090"/>
<rect x="123.10" y="210.24" width="2.60" height="9.11" fill="url(#p5)" stroke="#000" stroke-width="0.6" stroke-opacity="0.9"/>
<rect x="125.70" y="212.71" width="2.60" height="6.64" fill="#00ffff"/>
<rect x="125.70" y="212.71" width="2.60" height="6.64" fill="url(#p6)" stroke="#000" stroke-width="0.6" stroke-opacity="0.9"/>
<rect x="128.30" y="215.98" width="2.60" height="3.37" fill="#8800ff"/>
<rect x="128.30" y="215.98" width="2.60" height="3.37" fill="url(#p7)" stroke="#000" stroke-width="0.6" stroke-opacity="0.9"/>
<rect x="130.90" y="185.58" width="2.60" height="33.77" fill="#a80808"/>
<rect x="130.90" y="185.58" width="2.60" height="33.77" fill="url(#p8)" stroke="#000" stroke-width="0.6" stroke-opacity="0.9"/>
<rect x="139.38" y="215.34" width="2.60" height="4.01" fill="#ff0088"/>
<rect x="139.38" y="215.34" width="2.60" height="4.01" fill="url(#p0)" stroke="#000" stroke-width="0.6" stroke-opacity="0.9"/>
<rect x="141.98" y="215.27" width="2.60" height="4.08" fill="#909000"/>
<rect x="141.98" y="215.27" width="2.60" height="4.08" fill="url(#p1)" stroke="#000" stroke-width="0.6" stroke-opacity="0.9"/>
<rect x="144.58" y="213.73" width="2.60" height="5.62" fill="#0000ff"/>
<rect x="144.58" y="213.73" width="2.60" height="5.62" fill="url(#p2)" stroke="#000" stroke-width="0.6" stroke-opacity="0.9"/>
<rect x="147.18" y="195.35" width="2.60" height="24.00" fill="#ff10ff"/>
<rect x="147.18" y="195.35" width="2.60" height="24.00" fill="url(#p3)" stroke="#000" stroke-width="0.6" stroke-opacity="0.9"/>
<rect x="149.78" y="142.14" width="2.60" height="77.21" fill="#008800"/>
<rect x="149.78" y="142.14" width="2.60" height="77.21" fill="url(#p4)" stroke="#000" stroke-width="0.6" stroke-opacity="0.9"/>
<rect x="152.38" y="207.22" width="2.60" height="12.13" fill="#000090"/>
<rect x="152.38" y="207.22" width="2.60" height="12.13" fill="url(#p5)" stroke="#000" stroke-width="0.6" stroke-opacity="0.9"/>
<rect x="154.98" y="210.51" width="2.60" height="8.84" fill="#00ffff"/>
<rect x="154.98" y="210.51" width="2.60" height="8.84" fill="url(#p6)" stroke="#000" stroke-width="0.6" stroke-opacity="0.9"/>
<rect x="157.58" y="214.87" width="2.60" height="4.48" fill="#8800ff"/>
<rect x="157.58" y="214.87" width="2.60" height="4.48" fill="url(#p7)" stroke="#000" stroke-width="0.6" stroke-opacity="0.9"/>
<rect x="160.18" y="174.34" width="2.60" height="45.01" fill="#a80808"/>
<rect x="160.18" y="174.34" width="2.60" height="45.01" fill="url(#p8)" stroke="#000" stroke-width="0.6" stroke-opacity="0.9"/>
<rect x="168.66" y="214.35" width="2.60" height="5.00" fill="#ff0088"/>
<rect x="168.66" y="214.35" width="2.60" height="5.00" fill="url(#p0)" stroke="#000" stroke-width="0.6" stroke-opacity="0.9"/>
<rect x="171.26" y="214.27" width="2.60" height="5.08" fill="#909000"/>
<rect x="171.26" y="214.27" width="2.60" height="5.08" fill="url(#p1)" stroke="#000" stroke-width="0.6" stroke-opacity="0.9"/>
<rect x="173.86" y="212.34" width="2.60" height="7.01" fill="#0000ff"/>
<rect x="173.86" y="212.34" width="2.60" height="7.01" fill="url(#p2)" stroke="#000" stroke-width="0.6" stroke-opacity="0.9"/>
<rect x="176.46" y="189.36" width="2.60" height="29.99" fill="#ff10ff"/>
<rect x="176.46" y="189.36" width="2.60" height="29.99" fill="url(#p3)" stroke="#000" stroke-width="0.6" stroke-opacity="0.9"/>
<rect x="179.06" y="122.84" width="2.60" height="96.51" fill="#008800"/>
<rect x="179.06" y="122.84" width="2.60" height="96.51" fill="url(#p4)" stroke="#000" stroke-width="0.6" stroke-opacity="0.9"/>
<rect x="181.66" y="204.20" width="2.60" height="15.15" fill="#000090"/>
<rect x="181.66" y="204.20" width="2.60" height="15.15" fill="url(#p5)" stroke="#000" stroke-width="0.6" stroke-opacity="0.9"/>
<rect x="184.26" y="208.31" width="2.60" height="11.04" fill="#00ffff"/>
<rect x="184.26" y="208.31" width="2.60" height="11.04" fill="url(#p6)" stroke="#000" stroke-width="0.6" stroke-opacity="0.9"/>
<rect x="186.86" y="213.76" width="2.60" height="5.59" fill="#8800ff"/>
<rect x="186.86" y="213.76" width="2.60" height="5.59" fill="url(#p7)" stroke="#000" stroke-width="0.6" stroke-opacity="0.9"/>
<rect x="189.46" y="163.10" width="2.60" height="56.25" fill="#a80808"/>
<rect x="189.46" y="163.10" width="2.60" height="56.25" fill="url(#p8)" stroke="#000" stroke-width="0.6" stroke-opacity="0.9"/>
<rect x="197.94" y="213.36" width="2.60" height="5.99" fill="#ff0088"/>
<rect x="197.94" y="213.36" width="2.60" height="5.99" fill="url(#p0)" stroke="#000" stroke-width="0.6" stroke-opacity="0.9"/>
<rect x="200.54" y="213.26" width="2.60" height="6.09" fill="#909000"/>
<rect x="200.54" y="213.26" width="2.60" height="6.09" fill="url(#p1)" stroke="#000" stroke-width="0.6" stroke-opacity="0.9"/>
<rect x="203.14" y="210.95" width="2.60" height="8.40" fill="#0000ff"/>
<rect x="203.14" y="210.95" width="2.60" height="8.40" fill="url(#p2)" stroke="#000" stroke-width="0.6" stroke-opacity="0.9"/>
<rect x="205.74" y="183.37" width="2.60" height="35.98" fill="#ff10ff"/>
<rect x="205.74" y="183.37" width="2.60" height="35.98" fill="url(#p3)" stroke="#000" stroke-width="0.6" stroke-opacity="0.9"/>
<rect x="208.34" y="103.55" width="2.60" height="115.80" fill="#008800"/>
<rect x="208.34" y="103.55" width="2.60" height="115.80" fill="url(#p4)" stroke="#000" stroke-width="0.6" stroke-opacity="0.9"/>
<rect x="210.94" y="201.18" width="2.60" height="18.17" fill="#000090"/>
<rect x="210.94" y="201.18" width="2.60" height="18.17" fill="url(#p5)" stroke="#000" stroke-width="0.6" stroke-opacity="0.9"/>
<rect x="213.54" y="206.11" width="2.60" height="13.24" fill="#00ffff"/>
<rect x="213.54" y="206.11" width="2.60" height="13.24" fill="url(#p6)" stroke="#000" stroke-width="0.6" stroke-opacity="0.9"/>
<rect x="216.14" y="212.66" width="2.60" height="6.69" fill="#8800ff"/>
<rect x="216.14" y="212.66" width="2.60" height="6.69" fill="url(#p7)" stroke="#000" stroke-width="0.6" stroke-opacity="0.9"/>
<rect x="218.74" y="151.86" width="2.60" height="67.49" fill="#a80808"/>
<rect x="218.74" y="151.86" width="2.60" height="67.49" fill="url(#p8)" stroke="#000" stroke-width="0.6" stroke-opacity="0.9"/>
<rect x="227.22" y="212.37" width="2.60" height="6.98" fill="#ff0088"/>
<rect x="227.22" y="212.37" width="2.60" height="6.98" fill="url(#p0)" stroke="#000" stroke-width="0.6" stroke-opacity="0.9"/>
<rect x="229.82" y="212.25" width="2.60" height="7.10" fill="#909000"/>
<rect x="229.82" y="212.25" width="2.60" height="7.10" fill="url(#p1)" stroke="#000" stroke-width="0.6" stroke-opacity="0.9"/>
<rect x="232.42" y="209.55" width="2.60" height="9.80" fill="#0000ff"/>
<rect x="232.42" y="209.55" width="2.60" height="9.80" fill="url(#p2)" stroke="#000" stroke-width="0.6" stroke-opacity="0.9"/>
<rect x="235.02" y="177.38" width="2.60" height="41.97" fill="#ff10ff"/>
<rect x="235.02" y="177.38" width="2.60" height="41.97" fill="url(#p3)" stroke="#000" stroke-width="0.6" stroke-opacity="0.9"/>
<rect x="237.62" y="84.26" width="2.60" height="135.09" fill="#008800"/>
<rect x="237.62" y="84.26" width="2.60" height="135.09" fill="url(#p4)" stroke="#000" stroke-width="0.6" stroke-opacity="0.9"/>
<rect x="240.22" y="198.16" width="2.60" height="21.19" fill="#000090"/>
<rect x="240.22" y="198.16" width="2.60" height="21.19" fill="url(#p5)" stroke="#000" stroke-width="0.6" stroke-opacity="0.9"/>
<rect x="242.82" y="203.92" width="2.60" height="15.43" fill="#00ffff"/>
<rect x="242.82" y="203.92" width="2.60" height="15.43" fill="url(#p6)" stroke="#000" stroke-width="0.6" stroke-opacity="0.9"/>
<rect x="245.42" y="211.55" width="2.60" height="7.80" fill="#8800ff"/>
<rect x="245.42" y="211.55" width="2.60" height="7.80" fill="url(#p7)" stroke="#000" stroke-width="0.6" stroke-opacity="0.9"/>
<rect x="248.02" y="140.63" width="2.60" height="78.72" fill="#a80808"/>
<rect x="248.02" y="140.63" width="2.60" height="78.72" fill="url(#p8)" stroke="#000" stroke-width="0.6" stroke-opacity="0.9"/>
<rect x="256.50" y="211.38" width="2.60" height="7.97" fill="#ff0088"/>
<rect x="256.50" y="211.38" width="2.60" height="7.97" fill="url(#p0)" stroke="#000" stroke-width="0.6" stroke-opacity="0.9"/>
<rect x="259.10" y="211.25" width="2.60" height="8.10" fill="#909000"/>
<rect x="259.10" y="211.25" width="2.60" height="8.10" fill="url(#p1)" stroke="#000" stroke-width="0.6" stroke-opacity="0.9"/>
<rect x="261.70" y="208.16" width="2.60" height="11.19" fill="#0000ff"/>
<rect x="261.70" y="208.16" width="2.60" height="11.19" fill="url(#p2)" stroke="#000" stroke-width="0.6" stroke-opacity="0.9"/>
<rect x="264.30" y="171.39" width="2.60" height="47.96" fill="#ff10ff"/>
<rect x="264.30" y="171.39" width="2.60" height="47.96" fill="url(#p3)" stroke="#000" stroke-width="0.6" stroke-opacity="0.9"/>
<rect x="266.90" y="64.97" width="2.60" height="154.38" fill="#008800"/>
<rect x="266.90" y="64.97" width="2.60" height="154.38" fill="url(#p4)" stroke="#000" stroke-width="0.6" stroke-opacity="0.9"/>
<rect x="269.50" y="195.14" width="2.60" height="24.21" fill="#000090"/>
<rect x="269.50" y="195.14" width="2.60" height="24.21" fill="url(#p5)" stroke="#000" stroke-width="0.6" stroke-opacity="0.9"/>
<rect x="272.10" y="201.72" width="2.60" height="17.63" fill="#00ffff"/>
<rect x="272.10" y="201.72" width="2.60" height="17.63" fill="url(#p6)" stroke="#000" stroke-width="0.6" stroke-opacity="0.9"/>
<rect x="274.70" y="210.44" width="2.60" height="8.91" fill="#8800ff"/>
<rect x="274.70" y="210.44" width="2.60" height="8.91" fill="url(#p7)" stroke="#000" stroke-width="0.6" stroke-opacity="0.9"/>
<rect x="277.30" y="129.39" width="2.60" height="89.96" fill="#a80808"/>
<rect x="277.30" y="129.39" width="2.60" height="89.96" fill="url(#p8)" stroke="#000" stroke-width="0.6" stroke-opacity="0.9"/>
<rect x="285.78" y="210.39" width="2.60" height="8.96" fill="#ff0088"/>
<rect x="285.78" y="210.39" width="2.60" height="8.96" fill="url(#p0)" stroke="#000" stroke-width="0.6" stroke-opacity="0.9"/>
<rect x="288.38" y="210.24" width="2.60" height="9.11" fill="#909000"/>
<rect x="288.38" y="210.24" width="2.60" height="9.11" fill="url(#p1)" stroke="#000" stroke-width="0.6" stroke-opacity="0.9"/>
<rect x="290.98" y="206.77" width="2.60" height="12.58" fill="#0000ff"/>
<rect x="290.98" y="206.77" width="2.60" height="12.58" fill="url(#p2)" stroke="#000" stroke-width="0.6" stroke-opacity="0.9"/>
<rect x="293.58" y="165.40" width="2.60" height="53.95" fill="#ff10ff"/>
<rect x="293.58" y="165.40" width="2.60" height="53.95" fill="url(#p3)" stroke="#000" stroke-width="0.6" stroke-opacity="0.9"/>
<rect x="296.18" y="45.68" width="2.60" height="173.67" fill="#008800"/>
<rect x="296.18" y="45.68" width="2.60" height="173.67" fill="url(#p4)" stroke="#000" stroke-width="0.6" stroke-opacity="0.9"/>
<rect x="298.78" y="192.12" width="2.60" height="27.23" fill="#000090"/>
<rect x="298.78" y="192.12" width="2.60" height="27.23" fill="url(#p5)" stroke="#000" stroke-width="0.6" stroke-opacity="0.9"/>
<rect x="301.38" y="199.52" width="2.60" height="19.83" fill="#00ffff"/>
<rect x="301.38" y="199.52" width="2.60" height="19.83" fill="url(#p6)" stroke="#000" stroke-width="0.6" stroke-opacity="0.9"/>
<rect x="303.98" y="209.34" width="2.60" height="10.01" fill="#8800ff"/>
<rect x="303.98" y="209.34" width="2.60" height="10.01" fill="url(#p7)" stroke="#000" stroke-width="0.6" stroke-opacity="0.9"/>
<rect x="306.58" y="118.15" width="2.60" height="101.20" fill="#a80808"/>
<rect x="306.58" y="118.15" width="2.60" height="101.20" fill="url(#p8)" stroke="#000" stroke-width="0.6" stroke-opacity="0.9"/>
<rect x="315.06" y="209.40" width="2.60" height="9.95" fill="#ff0088"/>
<rect x="315.06" y="209.40" width="2.60" height="9.95" fill="url(#p0)" stroke="#000" stroke-width="0.6" stroke-opacity="0.9"/>
<rect x="317.66" y="209.24" width="2.60" height="10.12" fill="#909000"/>
<rect x="317.66" y="209.24" width="2.60" height="10.12" fill="url(#p1)" stroke="#000" stroke-width="0.6" stroke-opacity="0.9"/>
<rect x="320.26" y="205.38" width="2.60" height="13.97" fill="#0000ff"/>
<rect x="320.26" y="205.38" width="2.60" height="13.97" fill="url(#p2)" stroke="#000" stroke-width="0.6" stroke-opacity="0.9"/>
<rect x="322.86" y="159.41" width="2.60" height="59.94" fill="#ff10ff"/>
<rect x="322.86" y="159.41" width="2.60" height="59.94" fill="url(#p3)" stroke="#000" stroke-width="0.6" stroke-opacity="0.9"/>
<rect x="325.46" y="26.39" width="2.60" height="192.96" fill="#008800"/>
<rect x="325.46" y="26.39" width="2.60" height="192.96" fill="url(#p4)" stroke="#000" stroke-width="0.6" stroke-opacity="0.9"/>
<rect x="328.06" y="189.11" width="2.60" height="30.24" fill="#000090"/>
<rect x="328.06" y="189.11" width="2.60" height="30.24" fill="url(#p5)" stroke="#000" stroke-width="0.6" stroke-opacity="0.9"/>
<rect x="330.66" y="197.32" width="2.60" height="22.03" fill="#00ffff"/>
<rect x="330.66" y="197.32" width="2.60" height="22.03" fill="url(#p6)" stroke="#000" stroke-width="0.6" stroke-opacity="0.9"/>
<rect x="333.26" y="208.23" width="2.60" height="11.12" fill="#8800ff"/>
<rect x="333.26" y="208.23" width="2.60" height="11.12" fill="url(#p7)" stroke="#000" stroke-width="0.6" stroke-opacity="0.9"/>
<rect x="335.86" y="106.91" width="2.60" height="112.44" fill="#a80808"/>
<rect x="335.86" y="106.91" width="2.60" height="112.44" fill="url(#p8)" stroke="#000" stroke-width="0.6" stroke-opacity="0.9"/>
<path d="M48.4 1.05 V219.5" fill="none" stroke="#444" stroke-width="1.3"/>
<path d="M43.8 219.00 H48.4" stroke="#444" stroke-width="1.1"/>
<text x="41.4" y="222.20" text-anchor="end" font-size="9" fill="#222">0.0</text>
<path d="M46.0 202.22 H48.4" stroke="#444" stroke-width="1.1"/>
<path d="M43.8 185.45 H48.4" stroke="#444" stroke-width="1.1"/>
<text x="41.4" y="188.65" text-anchor="end" font-size="9" fill="#222">2.0E3</text>
<path d="M46.0 168.67 H48.4" stroke="#444" stroke-width="1.1"/>
<path d="M43.8 151.90 H48.4" stroke="#444" stroke-width="1.1"/>
<text x="41.4" y="155.10" text-anchor="end" font-size="9" fill="#222">4.0E3</text>
<path d="M46.0 135.12 H48.4" stroke="#444" stroke-width="1.1"/>
<path d="M43.8 118.35 H48.4" stroke="#444" stroke-width="1.1"/>
<text x="41.4" y="121.55" text-anchor="end" font-size="9" fill="#222">6.0E3</text>
<path d="M46.0 101.58 H48.4" stroke="#444" stroke-width="1.1"/>
<path d="M43.8 84.80 H48.4" stroke="#444" stroke-width="1.1"/>
<text x="41.4" y="88.00" text-anchor="end" font-size="9" fill="#222">8.0E3</text>
<path d="M46.0 68.03 H48.4" stroke="#444" stroke-width="1.1"/>
<path d="M43.8 51.25 H48.4" stroke="#444" stroke-width="1.1"/>
<text x="41.4" y="54.45" text-anchor="end" font-size="9" fill="#222">1.0E4</text>
<path d="M46.0 34.48 H48.4" stroke="#444" stroke-width="1.1"/>
<path d="M43.8 17.70 H48.4" stroke="#444" stroke-width="1.1"/>
<text x="41.4" y="20.90" text-anchor="end" font-size="9" fill="#222">1.2E4</text>
<path d="M46.0 1.35 H48.4" stroke="#444" stroke-width="1.1"/>
<path d="M63.04 219.0 V223.9" stroke="#444" stroke-width="1.1"/>
<text x="63.04" y="234.00" text-anchor="middle" font-size="9" fill="#222">1k</text>
<path d="M77.68 219.0 V221.8" stroke="#444" stroke-width="1.1"/>
<path d="M92.32 219.0 V223.9" stroke="#444" stroke-width="1.1"/>
<text x="92.32" y="234.00" text-anchor="middle" font-size="9" fill="#222">2k</text>
<path d="M106.96 219.0 V221.8" stroke="#444" stroke-width="1.1"/>
<path d="M121.60 219.0 V223.9" stroke="#444" stroke-width="1.1"/>
<text x="121.60" y="234.00" text-anchor="middle" font-size="9" fill="#222">3k</text>
<path d="M136.24 219.0 V221.8" stroke="#444" stroke-width="1.1"/>
<path d="M150.88 219.0 V223.9" stroke="#444" stroke-width="1.1"/>
<text x="150.88" y="234.00" text-anchor="middle" font-size="9" fill="#222">4k</text>
<path d="M165.52 219.0 V221.8" stroke="#444" stroke-width="1.1"/>
<path d="M180.16 219.0 V223.9" stroke="#444" stroke-width="1.1"/>
<text x="180.16" y="234.00" text-anchor="middle" font-size="9" fill="#222">5k</text>
<path d="M194.80 219.0 V221.8" stroke="#444" stroke-width="1.1"/>
<path d="M209.44 219.0 V223.9" stroke="#444" stroke-width="1.1"/>
<text x="209.44" y="234.00" text-anchor="middle" font-size="9" fill="#222">6k</text>
<path d="M224.08 219.0 V221.8" stroke="#444" stroke-width="1.1"/>
<path d="M238.72 219.0 V223.9" stroke="#444" stroke-width="1.1"/>
<text x="238.72" y="234.00" text-anchor="middle" font-size="9" fill="#222">7k</text>
<path d="M253.36 219.0 V221.8" stroke="#444" stroke-width="1.1"/>
<path d="M268.00 219.0 V223.9" stroke="#444" stroke-width="1.1"/>
<text x="268.00" y="234.00" text-anchor="middle" font-size="9" fill="#222">8k</text>
<path d="M282.64 219.0 V221.8" stroke="#444" stroke-width="1.1"/>
<path d="M297.28 219.0 V223.9" stroke="#444" stroke-width="1.1"/>
<text x="297.28" y="234.00" text-anchor="middle" font-size="9" fill="#222">9k</text>
<path d="M311.92 219.0 V221.8" stroke="#444" stroke-width="1.1"/>
<path d="M326.56 219.0 V223.9" stroke="#444" stroke-width="1.1"/>
<text x="326.56" y="234.00" text-anchor="middle" font-size="9" fill="#222">10k</text>
<path d="M341.20 219.0 V221.8" stroke="#444" stroke-width="1.1"/>
<path d="M48.40 219.0 V221.8" stroke="#444" stroke-width="1.1"/>
<text x="194.80" y="251.40" text-anchor="middle" font-size="11.26" fill="#222">Number of IoVT devices</text>
<text transform="translate(9.2,117.5) rotate(-90)" text-anchor="middle" font-size="11.26" fill="#222">Computational Cost (ms)</text>
<rect x="53.65" y="10.3" width="117.6" height="114.5" fill="#fff" stroke="#555" stroke-width="0.8"/>
<rect x="57.05" y="12.95" width="22.3" height="108.98" fill="#a4a4a4"/>
<rect x="57.20" y="12.30" width="22.0" height="10.1" fill="#ff0080"/>
<rect x="57.20" y="12.30" width="22.0" height="10.1" fill="url(#L0)" stroke="#222" stroke-width="0.7"/>
<text x="82.05" y="20.75" font-size="10.15" fill="#222">Proposed Protocol</text>
<rect x="57.20" y="24.86" width="22.0" height="10.1" fill="#808000"/>
<rect x="57.20" y="24.86" width="22.0" height="10.1" fill="url(#L1)" stroke="#222" stroke-width="0.7"/>
<text x="82.05" y="33.31" font-size="10.15" fill="#222">Ouaissa's</text>
<rect x="57.20" y="37.42" width="22.0" height="10.1" fill="#0000ff"/>
<rect x="57.20" y="37.42" width="22.0" height="10.1" fill="url(#L2)" stroke="#222" stroke-width="0.7"/>
<text x="82.05" y="45.87" font-size="10.15" fill="#222">NAPV</text>
<rect x="57.20" y="49.98" width="22.0" height="10.1" fill="#ff00ff"/>
<rect x="57.20" y="49.98" width="22.0" height="10.1" fill="url(#L3)" stroke="#222" stroke-width="0.7"/>
<text x="82.05" y="58.43" font-size="10.15" fill="#222">Choi's</text>
<rect x="57.20" y="62.54" width="22.0" height="10.1" fill="#008000"/>
<rect x="57.20" y="62.54" width="22.0" height="10.1" fill="url(#L4)" stroke="#222" stroke-width="0.7"/>
<text x="82.05" y="70.99" font-size="10.15" fill="#222">Shang's</text>
<rect x="57.20" y="75.10" width="22.0" height="10.1" fill="#000080"/>
<rect x="57.20" y="75.10" width="22.0" height="10.1" fill="url(#L5)" stroke="#222" stroke-width="0.7"/>
<text x="82.05" y="83.55" font-size="10.15" fill="#222">Miao's</text>
<rect x="57.20" y="87.66" width="22.0" height="10.1" fill="#00ffff"/>
<rect x="57.20" y="87.66" width="22.0" height="10.1" fill="url(#L6)" stroke="#222" stroke-width="0.7"/>
<path d="M57.35 89.81 h21.6" stroke="#002828" stroke-opacity="0.75" stroke-width="0.6"/>
<path d="M57.35 92.01 h21.6" stroke="#002828" stroke-opacity="0.75" stroke-width="0.6"/>
<path d="M57.35 94.21 h21.6" stroke="#002828" stroke-opacity="0.75" stroke-width="0.6"/>
<path d="M57.35 96.31 h21.6" stroke="#002828" stroke-opacity="0.75" stroke-width="0.6"/>
<text x="82.05" y="96.11" font-size="10.15" fill="#222">Fu'S</text>
<rect x="57.20" y="100.22" width="22.0" height="10.1" fill="#8000ff"/>
<rect x="57.20" y="100.22" width="22.0" height="10.1" fill="url(#L7)" stroke="#222" stroke-width="0.7"/>
<text x="82.05" y="108.67" font-size="10.15" fill="#222">E2Sec</text>
<rect x="57.20" y="112.78" width="22.0" height="10.1" fill="#800000"/>
<rect x="57.20" y="112.78" width="22.0" height="10.1" fill="url(#L8)" stroke="#222" stroke-width="0.7"/>
<text x="82.05" y="121.23" font-size="10.15" fill="#222">EMTC-AKA</text>
</g>
</svg>
</body></html>
